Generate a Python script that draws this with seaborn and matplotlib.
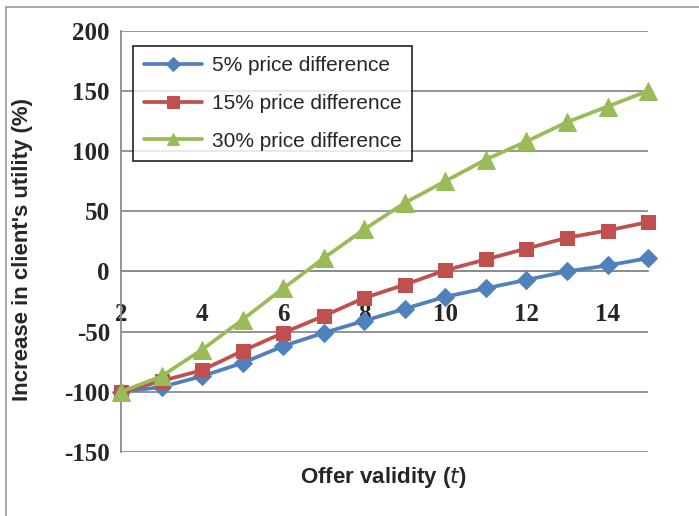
import matplotlib
matplotlib.use("Agg")
import matplotlib.pyplot as plt
from matplotlib.lines import Line2D
import seaborn as sns
import pandas as pd

# Offer validity periods and utility increase per price difference
validity = [2, 3, 4, 5, 6, 7, 8, 9, 10, 11, 12, 13, 14, 15]
diff_5 = [-100, -96, -87, -76, -62, -51, -41, -31, -21, -14, -7, 0, 5, 11]
diff_15 = [-100, -91, -82, -66, -51, -37, -22, -11, 1, 10, 19, 28, 34, 41]
diff_30 = [-100, -87, -65, -40, -14, 11, 35, 57, 75, 93, 108, 124, 137, 150]

series_names = ["5% price difference", "15% price difference", "30% price difference"]
y_ticks = [-150, -100, -50, 0, 50, 100, 150, 200]

df = pd.DataFrame({
    "t": validity * 3,
    "value": diff_5 + diff_15 + diff_30,
    "series": [series_names[0]] * len(validity)
    + [series_names[1]] * len(validity)
    + [series_names[2]] * len(validity),
})

sns.set_style("white")
plt.rcParams["font.family"] = ["Liberation Sans", "DejaVu Sans"]
plt.rcParams["axes.unicode_minus"] = False

colors = ["#4F81BD", "#C0504D", "#9BBB59"]
markers = ["D", "s", "^"]
msizes = [9, 10.5, 12.5]

fig = plt.figure(figsize=(6.99, 5.16), dpi=100)
ax = fig.add_axes([0.1731, 0.124, 0.754, 0.8165])

for name, c, m, ms in zip(series_names, colors, markers, msizes):
    sub = df[df["series"] == name]
    sns.lineplot(data=sub, x="t", y="value", ax=ax, color=c, marker=m,
                 markersize=ms, markeredgecolor=c, linewidth=2.7,
                 label=name, zorder=3, clip_on=False)

grid_c = "#8C8C8C"
ax.set_xlim(2, 15)
ax.set_ylim(-150, 200)
ax.set_yticks(y_ticks)
ax.yaxis.grid(True, color=grid_c, linewidth=1.3)
ax.xaxis.grid(False)
ax.set_axisbelow(True)

for s in ["top", "right"]:
    ax.spines[s].set_visible(False)
ax.spines["left"].set_color(grid_c)
ax.spines["left"].set_linewidth(1.3)
ax.spines["bottom"].set_position(("data", 0))
ax.spines["bottom"].set_color(grid_c)
ax.spines["bottom"].set_linewidth(1.3)

ax.set_xticks(validity)
ax.set_xticklabels([str(v) if v % 2 == 0 else "" for v in validity])
for lab in ax.get_xticklabels() + ax.get_yticklabels():
    lab.set_fontfamily(["Liberation Serif"])
    lab.set_fontsize(18)
    lab.set_fontweight("bold")
ax.tick_params(axis="x", direction="out", length=7, width=1.3, color=grid_c, pad=16)
ax.tick_params(axis="y", direction="out", length=7, width=1.3, color=grid_c, pad=1)

ax.set_xlabel("")
ax.set_ylabel("")
fig.text(0.548, 0.074, "Offer validity ($\\mathbf{\\mathit{t}}$)", ha="center", va="center",
         fontsize=16, fontweight="bold")
fig.text(0.032, 0.516, "Increase in client's utility (%)", ha="center", va="center",
         rotation=90, fontsize=16, fontweight="bold")

leg = ax.legend(loc="upper left", bbox_to_anchor=(0.023, 0.964), frameon=True,
                borderaxespad=0, fancybox=False, edgecolor="black", fontsize=15,
                handlelength=2.8, labelspacing=0.9, borderpad=0.5,
                handletextpad=0.5)
leg.get_frame().set_linewidth(1.3)
for h, ms in zip(leg.legend_handles, [7, 8, 9]):
    h.set_markersize(ms)

# outer frame lines along the top and left of the figure
fig.add_artist(Line2D([6 / 699, 6 / 699], [0, 1 - 7 / 516], transform=fig.transFigure,
                      color="#9A9A9A", linewidth=1.2))
fig.add_artist(Line2D([6 / 699, 1], [1 - 7 / 516, 1 - 7 / 516], transform=fig.transFigure,
                      color="#9A9A9A", linewidth=1.2))

fig.savefig("out.png", dpi=100)
